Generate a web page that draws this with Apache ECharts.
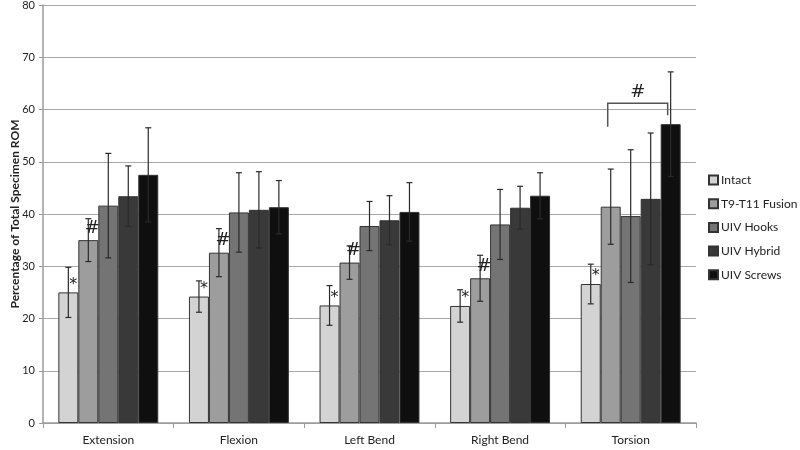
<!DOCTYPE html>
<html><head><meta charset="utf-8">
<script src="https://cdn.jsdelivr.net/npm/echarts@6/dist/echarts.min.js"></script>
<style>html,body{margin:0;padding:0;background:#fff}#c{width:800px;height:450px}</style>
</head><body><div id="c"></div>
<script>
const categories = ['Extension', 'Flexion', 'Left Bend', 'Right Bend', 'Torsion'];
const seriesNames = ['Intact', 'T9-T11 Fusion', 'UIV Hooks', 'UIV Hybrid', 'UIV Screws'];
const intact = [25.0, 24.2, 22.5, 22.4, 26.6];
const intactSD = [4.8, 3.0, 3.8, 3.1, 3.8];
const fusion = [35.0, 32.6, 30.7, 27.7, 41.4];
const fusionSD = [4.1, 4.6, 3.2, 4.4, 7.2];
const hooks = [41.6, 40.3, 37.7, 38.0, 39.6];
const hooksSD = [10.0, 7.6, 4.7, 6.7, 12.7];
const hybrid = [43.4, 40.8, 38.8, 41.2, 42.9];
const hybridSD = [5.8, 7.3, 4.7, 4.1, 12.6];
const screws = [47.5, 41.3, 40.4, 43.5, 57.2];
const screwsSD = [9.0, 5.1, 5.6, 4.4, 10.0];
const intactMarks = ['*', '*', '*', '*', '*'];
const fusionMarks = ['#', '#', '#', '#', ''];
const noMarks = ['', '', '', '', ''];
const yTicks = [0, 10, 20, 30, 40, 50, 60, 70, 80];
// Torsion bracket: from T9-T11 Fusion bar to UIV Screws bar
const bracketCategory = 4;
const bracketFrom = 1;
const bracketTo = 4;
const bracketTop = 61.2;
const bracketLeftEnd = 56.7;
const bracketRightEnd = 58.9;
const bracketLabel = '#';

const means = [intact, fusion, hooks, hybrid, screws];
const sds = [intactSD, fusionSD, hooksSD, hybridSD, screwsSD];
const marks = [intactMarks, fusionMarks, noMarks, noMarks, noMarks];
const colors = ['#d3d3d3', '#9d9d9d', '#747474', '#393939', '#0f0f0f'];
const CAT_GAP = 0.235;
const NB = seriesNames.length;
const FONT = 'Lato, "Open Sans", sans-serif';

function barCenter(api, cat, si) {
  const x = api.coord([cat, 0])[0];
  const band = api.size([1, 0])[0];
  const bw = band * (1 - CAT_GAP) / NB;
  return x + (si - (NB - 1) / 2) * bw;
}

const series = [];
seriesNames.forEach((name, si) => {
  series.push({
    name, type: 'bar', data: means[si], barGap: '0%', barCategoryGap: (CAT_GAP * 100) + '%',
    itemStyle: { color: colors[si], borderColor: '#333', borderWidth: 1 },
    emphasis: { disabled: true }
  });
});
seriesNames.forEach((name, si) => {
  series.push({
    type: 'custom', z: 5, silent: true,
    data: categories.map((c, i) => [i, means[si][i], sds[si][i], marks[si][i]]),
    encode: { x: 0, y: 1 },
    renderItem(params, api) {
      const cat = api.value(0), m = api.value(1), sd = api.value(2);
      const mark = marks[si][params.dataIndex];
      const cx = barCenter(api, cat, si);
      const yt = api.coord([cat, m + sd])[1];
      const yb = api.coord([cat, m - sd])[1];
      const ym = api.coord([cat, m])[1];
      const st = { stroke: '#2a2a2a', lineWidth: 1.2 };
      const children = [
        { type: 'line', shape: { x1: cx, y1: yt, x2: cx, y2: yb }, style: st },
        { type: 'line', shape: { x1: cx - 3, y1: yt, x2: cx + 3, y2: yt }, style: st },
        { type: 'line', shape: { x1: cx - 3, y1: yb, x2: cx + 3, y2: yb }, style: st }
      ];
      if (mark) {
        const isHash = mark === '#';
        children.push({ type: 'text', style: {
          text: mark, x: cx + (isHash ? 4 : 5), y: ym - (isHash ? 12 : 8),
          align: 'center', verticalAlign: 'middle',
          fontSize: isHash ? 18 : 16, fontFamily: 'DejaVu Sans, sans-serif', fill: '#222'
        }});
      }
      return { type: 'group', children };
    }
  });
});
series.push({
  type: 'custom', z: 6, silent: true,
  data: [[bracketCategory, bracketTop]],
  encode: { x: 0, y: 1 },
  renderItem(params, api) {
    const x1 = barCenter(api, bracketCategory, bracketFrom) - 3;
    const x2 = barCenter(api, bracketCategory, bracketTo) - 3;
    const yt = api.coord([bracketCategory, bracketTop])[1];
    const yl = api.coord([bracketCategory, bracketLeftEnd])[1];
    const yr = api.coord([bracketCategory, bracketRightEnd])[1];
    const st = { stroke: '#555', lineWidth: 1.5, fill: null };
    return { type: 'group', children: [
      { type: 'polyline', shape: { points: [[x1, yl], [x1, yt], [x2, yt], [x2, yr]] }, style: st },
      { type: 'text', style: { text: bracketLabel, x: (x1 + x2) / 2, y: yt - 11, align: 'center', verticalAlign: 'middle',
        fontSize: 18, fontFamily: 'DejaVu Sans, sans-serif', fill: '#222' } }
    ]};
  }
});

const chart = echarts.init(document.getElementById('c'), null, { renderer: 'canvas' });
chart.setOption({
  animation: false,
  backgroundColor: '#fff',
  grid: { left: 43, right: 104, top: 5, bottom: 27, containLabel: false, outerBoundsMode: 'none' },
  legend: {
    orient: 'vertical', left: 703, top: 169, itemWidth: 9, itemHeight: 9, itemGap: 11.7,
    data: seriesNames, icon: 'rect',
    textStyle: { fontSize: 12, fontFamily: FONT, color: '#222', padding: [0, 0, 0, -2] }
  },
  xAxis: {
    type: 'category', data: categories,
    axisLine: { lineStyle: { color: '#9a9a9a', width: 1.5 } },
    axisTick: { show: true, alignWithLabel: false, length: 5, lineStyle: { color: '#9a9a9a' } },
    axisLabel: { fontSize: 12, fontFamily: FONT, color: '#222', margin: 11 }
  },
  yAxis: {
    type: 'value', min: 0, max: 80, interval: 10,
    name: 'Percentage of Total Specimen ROM', nameLocation: 'middle', nameGap: 22, nameMoveOverlap: false,
    nameTextStyle: { fontSize: 12, fontWeight: 'bold', fontFamily: FONT, color: '#222' },
    axisLine: { show: true, lineStyle: { color: '#9a9a9a', width: 1.5 } },
    axisTick: { show: true, length: 4, lineStyle: { color: '#9a9a9a' } },
    axisLabel: { fontSize: 11, fontFamily: FONT, color: '#222', margin: 8,
      formatter: v => yTicks.includes(v) ? String(v) : '' },
    splitLine: { lineStyle: { color: '#a8a8a8', width: 1.2 } }
  },
  series
});
</script></body></html>
